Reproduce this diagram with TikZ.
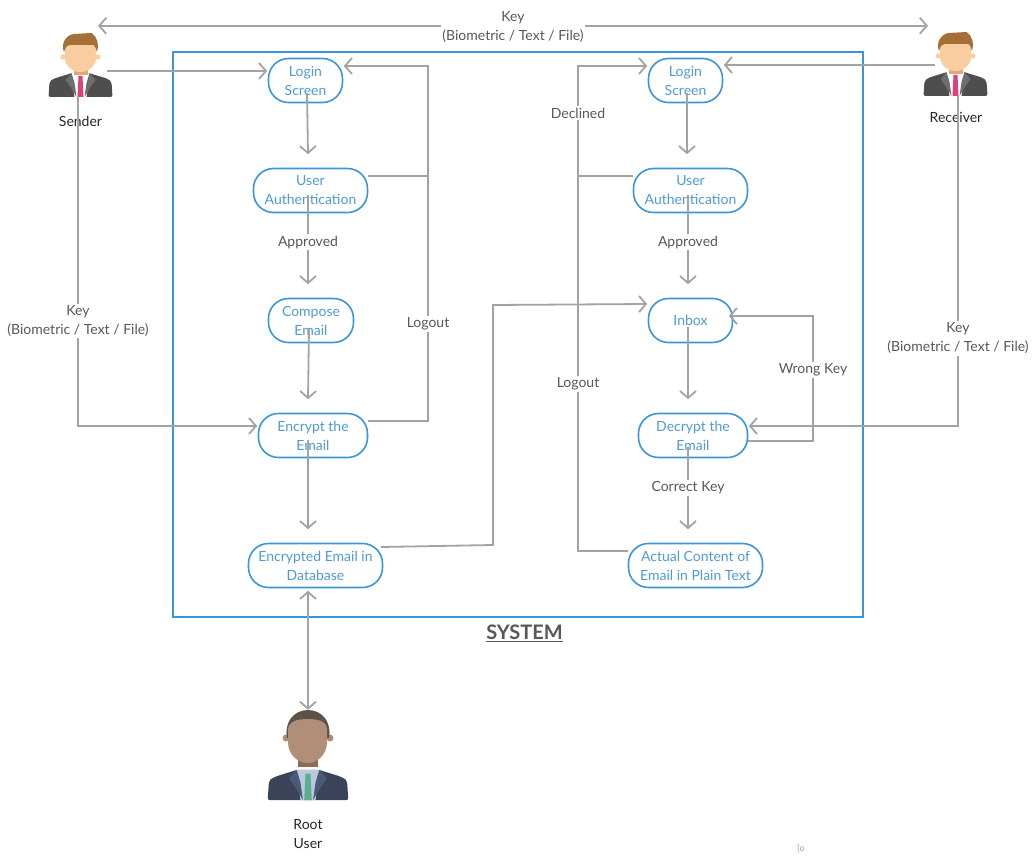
\documentclass[tikz,border=0pt]{standalone}
\usepackage{fontspec}
\setmainfont{Lato}
\usetikzlibrary{arrows.meta}

\definecolor{boxblue}{HTML}{3A96D8}
\definecolor{textblue}{HTML}{4F9AD0}
\definecolor{linegrey}{HTML}{A3A3A3}
\definecolor{labelgrey}{HTML}{585858}
\definecolor{suitgrey}{HTML}{4E4E4E}
\definecolor{lapelgrey}{HTML}{6E6E6E}
\definecolor{tiepink}{HTML}{D9437C}
\definecolor{skinlight}{HTML}{F9CDA0}
\definecolor{necklight}{HTML}{E0A97C}
\definecolor{hairbrown}{HTML}{A56F38}
\definecolor{suitnavy}{HTML}{3A4358}
\definecolor{lapelnavy}{HTML}{4C5A78}
\definecolor{shirtblue}{HTML}{BCC8E0}
\definecolor{tiegreen}{HTML}{58B08C}
\definecolor{skindark}{HTML}{B08E78}
\definecolor{neckdark}{HTML}{8C6C58}
\definecolor{hairdark}{HTML}{5C5248}

\tikzset{
  stepbox/.style={draw=boxblue, line width=1.6pt, rounded corners=20pt, text=textblue,
    inner sep=0pt, align=center, font=\fontsize{14}{19}\selectfont},
  flow/.style={draw=linegrey, line width=1.8pt, -{Straight Barb[length=7pt,width=16pt]}},
  both/.style={draw=linegrey, line width=1.8pt, {Straight Barb[length=7pt,width=16pt]}-{Straight Barb[length=7pt,width=16pt]}},
  plain/.style={draw=linegrey, line width=1.8pt},
  edgelabel/.style={fill=white, text=labelgrey, inner sep=1.5pt, align=center,
    font=\fontsize{14}{19}\selectfont},
  personbox/.style={inner sep=0pt, align=center},
  personname/.style={text=black!85, inner sep=0pt, align=center,
    font=\fontsize{14}{19}\selectfont},
}

% torso of a person, origin at the bottom centre of the jacket
\newcommand{\torso}[6]{
  \begin{scope}[shift={(#1)},scale=#2]
    \fill[#3, rounded corners=2pt] (-32,0) -- (-31,-15) .. controls (-27,-19) and (-17,-21) .. (-9,-24)
      -- (9,-24) .. controls (17,-21) and (27,-19) .. (31,-15) -- (32,0) -- cycle;
    \fill[#5] (-9,-24) -- (9,-24) -- (6,0) -- (-6,0) -- cycle;
    \fill[#4] (-9,-24) -- (-15,-17) -- (-10,-10) -- (-4,0) -- (-6,-14) -- cycle;
    \fill[#4] (9,-24) -- (15,-17) -- (10,-10) -- (4,0) -- (6,-14) -- cycle;
    \fill[#6] (-2,-21) -- (2,-21) -- (3,0) -- (-3,0) -- cycle;
  \end{scope}
}

% head with the quiff, origin at the chin
\newcommand{\quiffhead}[1]{
  \begin{scope}[shift={(#1)}]
    \fill[necklight] (-7,-6) rectangle (7,3);
    \fill[skinlight] (-17.5,-15) circle (2.5) (17.5,-15) circle (2.5);
    \fill[skinlight] (-15.5,-28) -- (-15.5,-14) .. controls (-15.5,-6) and (-7.5,0) .. (0,0)
      .. controls (7.5,0) and (15.5,-6) .. (15.5,-14) -- (15.5,-28) -- cycle;
    \fill[hairbrown] (-16.5,-20) .. controls (-20,-29) and (-14,-37) .. (-7,-38) -- (11,-39)
      .. controls (17,-35) and (19,-27) .. (16.5,-20) .. controls (15,-24) and (15,-26) .. (13,-27)
      -- (-11,-27) .. controls (-15,-26) and (-15.5,-23) .. (-16.5,-20) -- cycle;
  \end{scope}
}

\begin{document}
\begin{tikzpicture}[x=1pt,y=-1pt]
    \useasboundingbox (0,0) rectangle (1035,864);

    % sender
    \torso{80.5,97}{1}{suitgrey}{lapelgrey}{white}{tiepink}
    \quiffhead{80.5,72}

    % receiver
    \torso{955.5,96}{1}{suitgrey}{lapelgrey}{white}{tiepink}
    \quiffhead{955.5,71}

    % root user
    \torso{308,800}{1.26}{suitnavy}{lapelnavy}{shirtblue}{tiegreen}
    \fill[neckdark] (298,755) rectangle (318,767);
    \fill[skindark] (286,738) circle (3.5) (330,738) circle (3.5);
    \fill[hairdark] (287,738) .. controls (284,722) and (294,710) .. (308,710)
      .. controls (322,710) and (332,722) .. (329,738) -- cycle;
    \fill[skindark] (288,730) .. controls (288,722) and (296,719) .. (308,719)
      .. controls (320,719) and (327,722) .. (327,730) -- (327,742) .. controls (327,755) and (317,763) .. (308,763)
      .. controls (298,763) and (288,755) .. (288,742) -- cycle;

    \node[personbox, minimum width=63pt, minimum height=64pt] (sender) at (80.5,65) {};
    \node[personbox, minimum width=63pt, minimum height=64pt] (receiver) at (955.5,64) {};
    \node[personbox, minimum width=80pt, minimum height=90pt] (rootuser) at (308,755) {};
    \node[personname] (sendername) at (80.5,121.5) {Sender};
    \node[personname] (receivername) at (956,117.5) {Receiver};
    \node[personname] (rootname) at (308,834) {Root\\User};

    \draw[boxblue, line width=1.6pt] (173,52) rectangle (863,617);
    \node[text=labelgrey, font=\fontsize{20}{22}\selectfont\bfseries, inner sep=0pt] (system) at (524.5,633) {\underline{SYSTEM}};

    \node[stepbox, minimum width=74pt, minimum height=44pt] (loginA) at (305.5,80.5) {Login\\Screen};
    \node[stepbox, minimum width=114pt, minimum height=44pt] (authA) at (310.5,190.5) {User\\Authentication};
    \node[stepbox, minimum width=85pt, minimum height=44pt] (compose) at (311,320.5) {Compose\\Email};
    \node[stepbox, minimum width=109pt, minimum height=44pt] (encrypt) at (313,435.5) {Encrypt the\\Email};
    \node[stepbox, minimum width=134pt, minimum height=44pt] (database) at (315.5,565.5) {Encrypted Email in\\Database};

    \node[stepbox, minimum width=74pt, minimum height=44pt] (loginB) at (685.5,80.5) {Login\\Screen};
    \node[stepbox, minimum width=114pt, minimum height=44pt] (authB) at (690.5,190.5) {User\\Authentication};
    \node[stepbox, minimum width=84pt, minimum height=44pt] (inbox) at (690.5,320.5) {Inbox};
    \node[stepbox, minimum width=109pt, minimum height=44pt] (decrypt) at (693,435.5) {Decrypt the\\Email};
    \node[stepbox, minimum width=134pt, minimum height=44pt] (plaintext) at (695.5,565.5) {Actual Content of\\Email in Plain Text};

    \coordinate (logoutA) at (428,66);
    \coordinate (logoutB) at (578,66);
    \coordinate (logoutC) at (578,176);
    \coordinate (wrongkey) at (813,316);
    \coordinate (crossA) at (493,545);
    \coordinate (crossB) at (493,305);

    % key exchange
    \draw[both] ([xshift=17.5pt,yshift=7pt]sender.north) -- node[edgelabel, yshift=-1pt] (keytop) {Key\\(Biometric / Text / File)} ([xshift=-27.5pt,yshift=6pt]receiver.north);
    \draw[flow] ([xshift=-5pt,yshift=-6pt]sender.east) -- ([xshift=-.5pt,yshift=9.5pt]loginA.west);
    \draw[flow] ([xshift=-2.5pt]sender.south) |- ([xshift=-.5pt,yshift=9.5pt]encrypt.west);
    \node[edgelabel] (keyleft) at (78,321) {Key\\(Biometric / Text / File)};
    \draw[flow] ([xshift=11pt,yshift=-1pt]receiver.west) -- ([xshift=.5pt,yshift=15.5pt]loginB.east);
    \draw[flow] ([xshift=2.5pt]receiver.south) |- ([xshift=.5pt,yshift=9.5pt]decrypt.east);
    \node[edgelabel] (keyright) at (958,338.5) {Key\\(Biometric / Text / File)};

    % sender side
    \draw[flow] ([xshift=1.5pt,yshift=10.5pt]loginA.south) -- ([xshift=-2.5pt,yshift=13.5pt]authA.north);
    \draw[flow] ([xshift=-2.5pt,yshift=-4.5pt]authA.center) -- node[edgelabel, pos=.53] (approvedA) {Approved} ([xshift=-3pt,yshift=13.5pt]compose.north);
    \draw[flow] ([xshift=-2pt,yshift=15.5pt]compose.south) -- ([xshift=-5pt,yshift=13.5pt]encrypt.north);
    \draw[flow] ([xshift=-5pt,yshift=-4.5pt]encrypt.center) -- ([xshift=-7.5pt,yshift=13.5pt]database.north);
    \draw[plain] ([xshift=-.5pt,yshift=14.5pt]authA.east) -- ++(61,0);
    \draw[flow] ([xshift=-.5pt,yshift=14.5pt]encrypt.east) -| (logoutA) -- ([xshift=.5pt,yshift=14.5pt]loginA.east);
    \node[edgelabel] (logoutlabelA) at (428,324) {Logout};

    % crossing to the receiver
    \draw[flow] ([xshift=-2.5pt,yshift=18.5pt]database.east) -- (crossA) -- (crossB) -- ([xshift=-.5pt,yshift=16.5pt]inbox.west);

    % receiver side
    \draw[flow] ([xshift=1.5pt,yshift=10.5pt]loginB.south) -- ([xshift=-3.5pt,yshift=13.5pt]authB.north);
    \draw[flow] ([xshift=-2.5pt,yshift=-4.5pt]authB.center) -- node[edgelabel, pos=.53] (approvedB) {Approved} ([xshift=-2.5pt,yshift=13.5pt]inbox.north);
    \draw[flow] ([xshift=-2.5pt,yshift=-6.5pt]inbox.center) -- ([xshift=-5pt,yshift=13.5pt]decrypt.north);
    \draw[flow] ([xshift=-5pt,yshift=-11.5pt]decrypt.center) -- node[edgelabel, pos=.5] (correctkey) {Correct Key} ([xshift=-7.5pt,yshift=13.5pt]plaintext.north);
    \draw[flow] ([xshift=-.5pt,yshift=-5.5pt]decrypt.east) -| (wrongkey) -- ([xshift=-4.5pt,yshift=4.5pt]inbox.east);
    \node[edgelabel] (wronglabel) at (813,370) {Wrong Key};
    \draw[flow] ([xshift=.5pt,yshift=14.5pt]authB.west) -| (logoutB) -- ([xshift=-.5pt,yshift=14.5pt]loginB.west);
    \node[edgelabel] (declined) at (578,113) {Declined};
    \draw[plain] ([xshift=.5pt,yshift=14.5pt]plaintext.west) -| (logoutC);
    \node[edgelabel] (logoutlabelB) at (578,384) {Logout};

    % root user
    \draw[both] ([xshift=-7.5pt,yshift=-2.5pt]database.south) -- (rootuser.north);

    \node[text=linegrey, font=\fontsize{9}{9}\selectfont, inner sep=0pt] (mark) at (801,849) {[o};
\end{tikzpicture}
\end{document}
